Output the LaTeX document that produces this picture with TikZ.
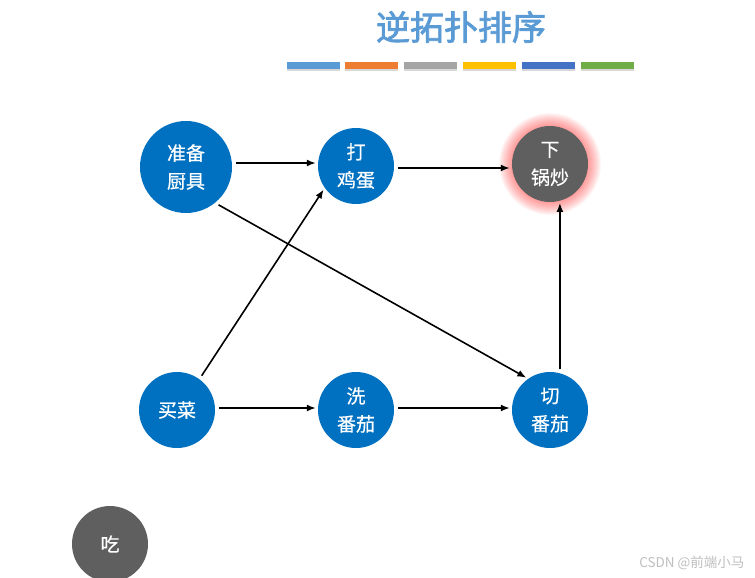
\documentclass[tikz,border=0pt]{standalone}
\usepackage{fontspec}
\newfontfamily\cjk{Noto Sans CJK SC}
\newfontfamily\cjkn[FakeBold=0.5]{Noto Sans CJK SC}
\newfontfamily\cjkt[FakeBold=2.2]{Noto Sans CJK SC}
\usetikzlibrary{arrows.meta}
\definecolor{nblue}{HTML}{0070C0}
\definecolor{ngray}{HTML}{5F5F5F}
\definecolor{ttl}{HTML}{5B9BD5}
\definecolor{b1}{HTML}{5B9BD5}
\definecolor{b2}{HTML}{ED7D31}
\definecolor{b3}{HTML}{A5A5A5}
\definecolor{b4}{HTML}{FFC000}
\definecolor{b5}{HTML}{4472C4}
\definecolor{b6}{HTML}{70AD47}
\definecolor{glow}{HTML}{FF3030}
\tikzset{
  task/.style={circle, fill=nblue, text=white, inner sep=0pt, minimum size=76pt, align=center,
    font=\cjkn\fontsize{19}{28}\selectfont},
  bigtask/.style={task, minimum size=92pt},
  graytask/.style={task, fill=ngray},
  conn/.style={draw=black, line width=1.6pt, -{Latex[length=9pt,width=7pt]}, shorten <=4pt, shorten >=2pt},
  bar/.style={inner sep=0pt, minimum width=53pt, minimum height=7pt},
}
\begin{document}
\begin{tikzpicture}[x=1pt,y=-1pt]
\useasboundingbox[fill=white] (0,0) rectangle (755,578);
% title
\node[text=ttl, font=\cjkt\fontsize{34}{40}\selectfont] (title) at (461,27) {逆拓扑排序};
% colour bars
\foreach \c/\x [count=\i] in {b1/313.5, b2/371, b3/430, b4/489, b5/548, b6/607.5}{
  \fill[black!30, opacity=0.5] (\x-26.5,67) rectangle (\x+26.5,71);
  \node[bar, fill=\c] (bar\i) at (\x,66) {};
}
% glow
\foreach \r in {51,50,49,48,47,46,45,44,43,42,41,40,39}{
  \fill[glow, opacity=0.045] (550,164) circle (\r);
}
% nodes
\node[bigtask] (zb) at (186,167) {准备\\厨具};
\node[task] (dj) at (356,166) {打\\鸡蛋};
\node[graytask] (xg) at (550,164) {下\\锅炒};
\node[task] (mc) at (177,410) {买菜};
\node[task] (xf) at (356,410) {洗\\番茄};
\node[task] (qf) at (550,410) {切\\番茄};
\node[graytask] (chi) at (110,544) {吃};
% connectors
\draw[conn] (zb.east |- 0,163) -- (dj.west |- 0,163);
\draw[conn] (dj.east |- 0,168) -- (xg.west |- 0,168);
\draw[conn] (zb.-51) -- (qf.125);
\draw[conn] (mc.54) -- (dj.215);
\draw[conn] (mc.east |- 0,408) -- (xf.west |- 0,408);
\draw[conn] (xf.east |- 0,408) -- (qf.west |- 0,408);
\draw[conn] (qf.75) -- (xg.285);
% watermark
\node[text=black!25, font=\cjk\fontsize{13.5}{15}\selectfont, anchor=east] (wm) at (748,563) {CSDN @前端小马};
\end{tikzpicture}
\end{document}
